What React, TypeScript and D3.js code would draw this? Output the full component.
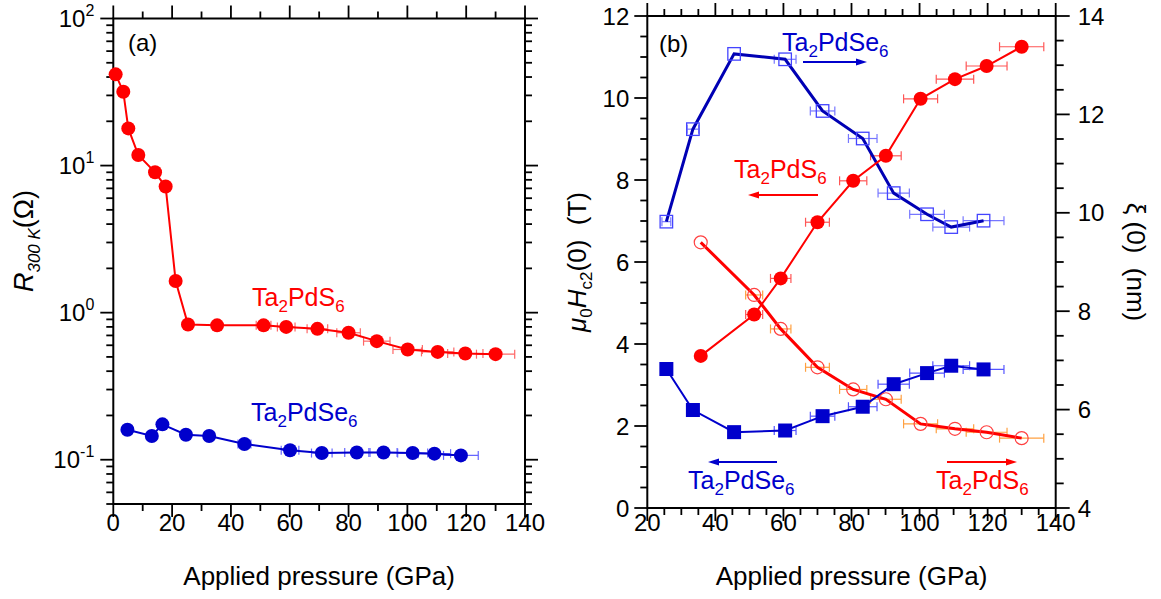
import React from 'react';
import * as d3 from 'd3';

const FONT = '"Liberation Sans", Arial, Helvetica, sans-serif';
const RED = '#ff0000';
const BLUE = '#0000cc';

// ---------- Panel (a): R300K vs pressure ----------
const aPressureS = [0.8, 3.4, 5.1, 8.5, 14.2, 17.8, 21.2, 25.4, 35.3, 51.1, 58.8, 69.4, 80.0, 89.6, 100.1, 110.3, 119.7, 130.0];
const aResistS = [41.7, 31.8, 17.9, 11.8, 9.0, 7.2, 1.64, 0.83, 0.82, 0.82, 0.80, 0.776, 0.73, 0.64, 0.562, 0.541, 0.527, 0.522];
const aErrS = [0, 0, 0, 0, 0, 0, 0, 0, 0, 2.5, 3, 3.5, 4, 4.5, 5, 5.5, 6, 6.5];

const aPressureSe = [4.8, 13.1, 16.7, 24.7, 32.6, 44.6, 60.1, 70.9, 82.8, 91.9, 101.8, 109.2, 118.2];
const aResistSe = [0.160, 0.145, 0.174, 0.148, 0.145, 0.128, 0.116, 0.111, 0.112, 0.112, 0.111, 0.110, 0.107];
const aErrSe = [0, 0, 0, 0, 0, 2.2, 3, 3.5, 4.1, 4.6, 5.1, 5.5, 5.9];

const aXTicks = [0, 20, 40, 60, 80, 100, 120, 140];
const aYTicks = [0.1, 1, 10, 100];
const aYTickExp = ['-1', '0', '1', '2'];

// ---------- Panel (b): Hc2 and xi vs pressure ----------
const bPressureS = [35.7, 51.4, 59.2, 70.0, 80.5, 90.1, 100.3, 110.4, 119.7, 130.0];
const bHc2S = [3.71, 4.72, 5.60, 6.97, 7.98, 8.59, 9.98, 10.46, 10.78, 11.25];
const bXiS = [9.40, 8.33, 7.64, 6.86, 6.41, 6.21, 5.71, 5.61, 5.54, 5.42];
const bErrS = [0, 2.5, 3, 3.5, 4, 4.5, 5, 5.5, 6, 6.5];

const bPressureSe = [25.6, 33.4, 45.5, 60.5, 71.5, 83.3, 92.4, 102.2, 109.3, 118.8];
const bHc2Se = [3.39, 2.39, 1.85, 1.89, 2.24, 2.47, 3.02, 3.29, 3.47, 3.38];
const bXiSe = [9.82, 11.70, 13.23, 13.12, 12.07, 11.51, 10.40, 9.97, 9.71, 9.84];
const bErrSe = [1.3, 1.7, 0, 3.2, 3.6, 4.2, 4.6, 5.1, 5.4, 6.0];

const bXTicks = [20, 40, 60, 80, 100, 120, 140];
const bYLTicks = [0, 2, 4, 6, 8, 10, 12];
const bYRTicks = [4, 6, 8, 10, 12, 14];

const MAJ = 13;
const MIN = 7;

function range(a: number, b: number, s: number) {
  const out: number[] = [];
  for (let v = a; v <= b + 1e-9; v += s) out.push(+v.toFixed(6));
  return out;
}

function XTicks({ scale, major, minor, top, bottom }: any) {
  const els: any[] = [];
  minor.forEach((v: number, i: number) => {
    const x = scale(v);
    const isMaj = major.some((m: number) => Math.abs(m - v) < 1e-6);
    const L = isMaj ? MAJ : MIN;
    els.push(<line key={'b' + i} x1={x} x2={x} y1={bottom} y2={bottom + L} />);
    els.push(<line key={'t' + i} x1={x} x2={x} y1={top} y2={top - L} />);
  });
  return <g stroke="#000" strokeWidth={1.8}>{els}</g>;
}

function YTicks({ scale, major, minor, left, right }: any) {
  const els: any[] = [];
  minor.forEach((v: number, i: number) => {
    const y = scale(v);
    const isMaj = major.some((m: number) => Math.abs(m - v) < 1e-6 * Math.max(1, Math.abs(m)));
    const L = isMaj ? MAJ : MIN;
    els.push(<line key={'l' + i} x1={left} x2={left - L} y1={y} y2={y} />);
    els.push(<line key={'r' + i} x1={right} x2={right + L} y1={y} y2={y} />);
  });
  return <g stroke="#000" strokeWidth={1.8}>{els}</g>;
}

function ErrBars({ xs, ys, errs, x, y, color }: any) {
  return (
    <g stroke={color} strokeWidth={1.2}>
      {xs.map((p: number, i: number) => {
        const e = errs[i];
        if (!e) return null;
        const yy = y(ys[i]);
        const x1 = x(p - e);
        const x2 = x(p + e);
        return (
          <g key={i}>
            <line x1={x1} x2={x2} y1={yy} y2={yy} />
            <line x1={x1} x2={x1} y1={yy - 4.5} y2={yy + 4.5} />
            <line x1={x2} x2={x2} y1={yy - 4.5} y2={yy + 4.5} />
          </g>
        );
      })}
    </g>
  );
}

function Formula({ x, y, color, sub, anchor = 'start', size = 25 }: any) {
  const s = size * 0.68;
  return (
    <text x={x} y={y} fill={color} fontSize={size} fontFamily={FONT} textAnchor={anchor}>
      <tspan>Ta</tspan>
      <tspan fontSize={s} dy={6}>2</tspan>
      <tspan dy={-6}>{'Pd' + sub}</tspan>
      <tspan fontSize={s} dy={6}>6</tspan>
    </text>
  );
}

function Arrow({ x1, x2, y, color }: any) {
  const dir = x2 > x1 ? 1 : -1;
  const hl = 11;
  const hw = 3.5;
  const tip = x2;
  const base = x2 - dir * hl;
  return (
    <g>
      <line x1={x1} x2={base + dir * 2} y1={y} y2={y} stroke={color} strokeWidth={2} />
      <path d={`M${tip},${y} L${base},${y - hw} L${base},${y + hw} Z`} fill={color} />
    </g>
  );
}

export default function App() {
  const aL = 113.3, aR = 525, aT = 18.5, aB = 504;
  const ax = d3.scaleLinear().domain([0, 140]).range([aL, aR]);
  const ay = d3.scaleLog().domain([0.05, 100]).range([aB, aT]);

  const bL = 647.3, bR = 1055.7, bT = 16, bB = 508;
  const bx = d3.scaleLinear().domain([20, 140]).range([bL, bR]);
  const byL = d3.scaleLinear().domain([0, 12]).range([bB, bT]);
  const byR = d3.scaleLinear().domain([4, 14]).range([bB, bT]);

  const aLogMinor: number[] = [];
  for (let d = -2; d <= 1; d++) for (let k = 1; k <= 9; k++) {
    const v = k * Math.pow(10, d);
    if (v >= 0.05 - 1e-9 && v <= 100 + 1e-9) aLogMinor.push(v);
  }
  aLogMinor.push(100);

  const lineA = (ys: number[]) => d3.line<number>().x((p) => ax(p)).y((_, i) => ay(ys[i]));
  const lineBL = (ys: number[]) => d3.line<number>().x((p) => bx(p)).y((_, i) => byL(ys[i]));
  const lineBR = (ys: number[]) => d3.line<number>().x((p) => bx(p)).y((_, i) => byR(ys[i]));

  const sq = 12.5;
  const sqF = 14;
  const rA = 7;
  const rB = 7;

  return (
    <svg width={1161} height={599} style={{ position: 'absolute', left: 0, top: 0, background: '#fff' }} fontFamily={FONT}>
      <rect x={0} y={0} width={1161} height={599} fill="#fff" />

      {/* ================= Panel (a) ================= */}
      <XTicks scale={ax} major={aXTicks} minor={range(0, 140, 10)} top={aT} bottom={aB} />
      <YTicks scale={ay} major={aYTicks} minor={aLogMinor} left={aL} right={aR} />
      <rect x={aL} y={aT} width={aR - aL} height={aB - aT} fill="none" stroke="#000" strokeWidth={2} />

      {aXTicks.map((t) => (
        <text key={'ax' + t} x={ax(t)} y={531} textAnchor="middle" fontSize={24}>{t}</text>
      ))}
      {aYTicks.map((t, i) => (
        <text key={'ay' + t} x={aL - 19} y={ay(t) + 8} textAnchor="end" fontSize={24}>
          <tspan>10</tspan>
          <tspan fontSize={16} dy={-11}>{aYTickExp[i]}</tspan>
        </text>
      ))}
      <text x={(aL + aR) / 2} y={585} textAnchor="middle" fontSize={26}>Applied pressure (GPa)</text>
      <text transform="translate(33,241) rotate(-90)" textAnchor="middle" fontSize={27}>
        <tspan fontStyle="italic">R</tspan>
        <tspan fontStyle="italic" fontSize={17} dy={7}>300 K</tspan>
        <tspan dy={-7}>{'(\u03A9)'}</tspan>
      </text>
      <text x={128} y={51} fontSize={24}>(a)</text>

      <ErrBars xs={aPressureS} ys={aResistS} errs={aErrS} x={ax} y={ay} color="#ff6666" />
      <ErrBars xs={aPressureSe} ys={aResistSe} errs={aErrSe} x={ax} y={ay} color="#6666ff" />
      <path d={lineA(aResistS)(aPressureS) || ''} fill="none" stroke={RED} strokeWidth={2} />
      <path d={lineA(aResistSe)(aPressureSe) || ''} fill="none" stroke={BLUE} strokeWidth={2} />
      {aPressureS.map((p, i) => (
        <circle key={'as' + i} cx={ax(p)} cy={ay(aResistS[i])} r={rA} fill={RED} />
      ))}
      {aPressureSe.map((p, i) => (
        <circle key={'ase' + i} cx={ax(p)} cy={ay(aResistSe[i])} r={rA} fill={BLUE} />
      ))}
      <Formula x={252} y={306} color={RED} sub="S" />
      <Formula x={251} y={421} color={BLUE} sub="Se" />

      {/* ================= Panel (b) ================= */}
      <XTicks scale={bx} major={bXTicks} minor={range(20, 140, 5)} top={bT} bottom={bB} />
      <g stroke="#000" strokeWidth={1.8}>
        {range(0, 12, 0.5).map((v, i) => {
          const isMaj = Math.abs(v % 2) < 1e-6;
          return <line key={'bl' + i} x1={bL} x2={bL - (isMaj ? MAJ : MIN)} y1={byL(v)} y2={byL(v)} />;
        })}
        {range(4, 14, 0.5).map((v, i) => {
          const isMaj = Math.abs(v % 2) < 1e-6;
          return <line key={'br' + i} x1={bR} x2={bR + (isMaj ? MAJ + 1 : MIN + 1)} y1={byR(v)} y2={byR(v)} />;
        })}
      </g>
      <rect x={bL} y={bT} width={bR - bL} height={bB - bT} fill="none" stroke="#000" strokeWidth={2} />

      {bXTicks.map((t) => (
        <text key={'bx' + t} x={bx(t)} y={531} textAnchor="middle" fontSize={24}>{t}</text>
      ))}
      {bYLTicks.map((t) => (
        <text key={'byl' + t} x={bL - 18} y={byL(t) + 8.5} textAnchor="end" fontSize={24}>{t}</text>
      ))}
      {bYRTicks.map((t) => (
        <text key={'byr' + t} x={bR + 22} y={byR(t) + 8.5} textAnchor="start" fontSize={24}>{t}</text>
      ))}
      <text x={(bL + bR) / 2} y={585} textAnchor="middle" fontSize={26}>Applied pressure (GPa)</text>
      <text transform="translate(586,262) rotate(-90)" textAnchor="middle" fontSize={26}>
        <tspan fontStyle="italic">{'\u03BC'}</tspan>
        <tspan fontSize={17} dy={6}>0</tspan>
        <tspan fontStyle="italic" dy={-6}>H</tspan>
        <tspan fontSize={17} dy={6}>c2</tspan>
        <tspan dy={-6}>{'(0)\u00A0\u00A0(T)'}</tspan>
      </text>
      <text transform="translate(1127,262) rotate(90)" textAnchor="middle" fontSize={26}>
        {'\u03BE (0)\u00A0\u00A0(nm)'}
      </text>
      <text x={659} y={52} fontSize={24}>(b)</text>

      <ErrBars xs={bPressureSe} ys={bXiSe} errs={bErrSe} x={bx} y={byR} color="#7777ff" />
      <ErrBars xs={bPressureSe} ys={bHc2Se} errs={bErrSe} x={bx} y={byL} color="#5555ff" />
      <ErrBars xs={bPressureS} ys={bHc2S} errs={bErrS} x={bx} y={byL} color="#ff5555" />
      <ErrBars xs={bPressureS} ys={bXiS} errs={bErrS} x={bx} y={byR} color="#ffa040" />

      <path d={lineBR(bXiSe)(bPressureSe) || ''} fill="none" stroke="#0000b4" strokeWidth={3} />
      <path d={lineBR(bXiS)(bPressureS) || ''} fill="none" stroke={RED} strokeWidth={3} />
      <path d={lineBL(bHc2Se)(bPressureSe) || ''} fill="none" stroke={BLUE} strokeWidth={2} />
      <path d={lineBL(bHc2S)(bPressureS) || ''} fill="none" stroke={RED} strokeWidth={2} />

      {bPressureSe.map((p, i) => (
        <rect key={'bxse' + i} x={bx(p) - sq / 2} y={byR(bXiSe[i]) - sq / 2} width={sq} height={sq} fill="none" stroke="#4444ff" strokeWidth={1.3} />
      ))}
      {bPressureS.map((p, i) => (
        <circle key={'bxs' + i} cx={bx(p)} cy={byR(bXiS[i])} r={6.5} fill="none" stroke="#ff4040" strokeWidth={1.2} />
      ))}
      {bPressureSe.map((p, i) => (
        <rect key={'bhse' + i} x={bx(p) - sqF / 2} y={byL(bHc2Se[i]) - sqF / 2} width={sqF} height={sqF} fill={BLUE} />
      ))}
      {bPressureS.map((p, i) => (
        <circle key={'bhs' + i} cx={bx(p)} cy={byL(bHc2S[i])} r={rB} fill={RED} />
      ))}

      <Formula x={782} y={51} color={BLUE} sub="Se" />
      <Arrow x1={803} x2={867} y={62} color={BLUE} />
      <Formula x={734} y={178} color={RED} sub="S" />
      <Arrow x1={818} x2={748} y={195} color={RED} />
      <Arrow x1={777} x2={708} y={462} color={BLUE} />
      <Formula x={688} y={489} color={BLUE} sub="Se" />
      <Arrow x1={947} x2={1017} y={462} color={RED} />
      <Formula x={936} y={489} color={RED} sub="S" />
    </svg>
  );
}
